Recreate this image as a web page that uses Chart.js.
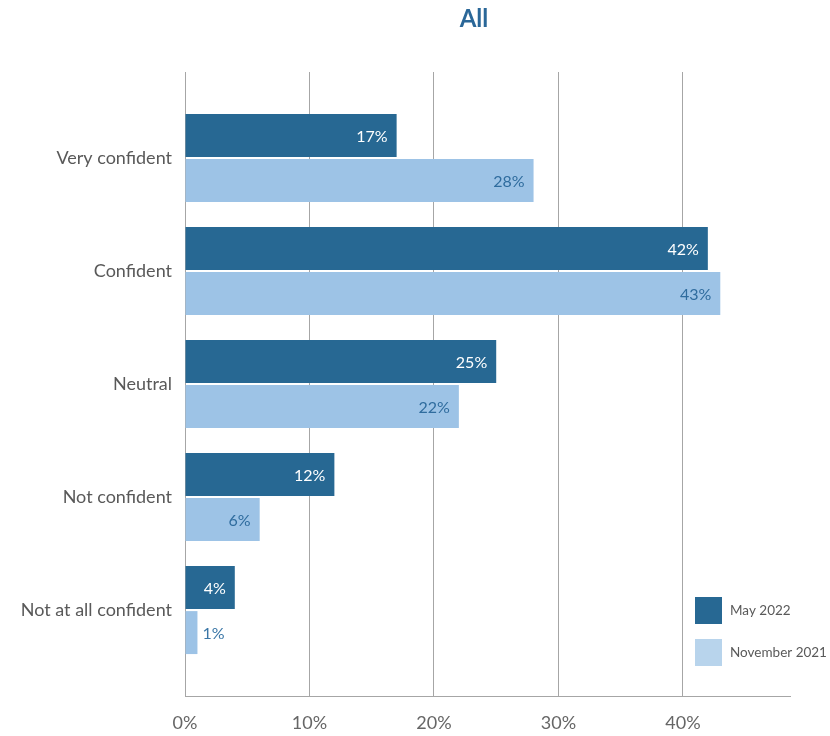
<!DOCTYPE html>
<html>
<head>
<meta charset="utf-8">
<script src="https://cdn.jsdelivr.net/npm/chart.js@4/dist/chart.umd.min.js"></script>
<style>
    html, body { margin: 0; padding: 0; background: #fff; }
</style>
</head>
<body>
<canvas id="graficoConfianca" width="830" height="736"></canvas>
<script>
const categories = ['Very confident', 'Confident', 'Neutral', 'Not confident', 'Not at all confident'];
const may2022 = [17, 42, 25, 12, 4];
const nov2021 = [28, 43, 22, 6, 1];
const xTicks = [0, 10, 20, 30, 40];

const FONT = 'Lato, "Open Sans", sans-serif';
const DARK = '#276893';
const LIGHT = '#9dc3e6';
const GRID = '#a6a6a6';

// value labels at the end of each bar (inside when it fits, else just outside)
const valueLabels = {
    id: 'valueLabels',
    afterDatasetsDraw(chart) {
        const ctx = chart.ctx;
        ctx.save();
        ctx.font = '16px ' + FONT;
        ctx.textBaseline = 'middle';
        chart.data.datasets.forEach((ds, di) => {
            chart.getDatasetMeta(di).data.forEach((bar, i) => {
                const text = ds.data[i].x + '%';
                const w = ctx.measureText(text).width;
                const len = bar.x - bar.base;
                if (len > w + 16) {
                    ctx.textAlign = 'right';
                    ctx.fillStyle = ds.labelColor;
                    ctx.fillText(text, bar.x - 9, bar.y + 1);
                } else {
                    ctx.textAlign = 'left';
                    ctx.fillStyle = '#3a76a6';
                    ctx.fillText(text, bar.x + 5, bar.y + 1);
                }
            });
        });
        ctx.restore();
    }
};

// title and legend boxes
const decorations = {
    id: 'decorations',
    afterDraw(chart) {
        const ctx = chart.ctx;
        ctx.save();
        ctx.fillStyle = '#2a6798';
        ctx.font = 'bold 24px ' + FONT;
        ctx.textAlign = 'center';
        ctx.textBaseline = 'middle';
        ctx.fillText('All', 474, 19);

        const items = [
            { label: 'May 2022', color: DARK, y: 597 },
            { label: 'November 2021', color: '#b8d4ec', y: 639 }
        ];
        ctx.font = '13.5px ' + FONT;
        ctx.textAlign = 'left';
        items.forEach(it => {
            ctx.fillStyle = it.color;
            ctx.fillRect(695, it.y, 27, 27);
            ctx.fillStyle = '#595959';
            ctx.fillText(it.label, 730, it.y + 14);
        });
        ctx.restore();
    }
};

const ctx = document.getElementById('graficoConfianca').getContext('2d');

new Chart(ctx, {
    type: 'bar',
    data: {
        datasets: [{
            label: 'May 2022',
            data: may2022.map((v, i) => ({ x: v, y: i })),
            backgroundColor: DARK,
            labelColor: '#ffffff',
            barPercentage: 0.955,
            categoryPercentage: 0.796
        }, {
            label: 'November 2021',
            data: nov2021.map((v, i) => ({ x: v, y: i })),
            backgroundColor: LIGHT,
            labelColor: '#2f6c9e',
            barPercentage: 0.955,
            categoryPercentage: 0.796
        }]
    },
    options: {
        indexAxis: 'y',
        responsive: false,
        animation: false,
        layout: {
            padding: { top: 72, right: 40, bottom: 0, left: 0 }
        },
        scales: {
            x: {
                type: 'linear',
                min: 0,
                max: 48.6,
                afterBuildTicks: scale => {
                    scale.ticks = xTicks.map(v => ({ value: v }));
                },
                afterFit: scale => { scale.height = 40; },
                ticks: {
                    color: '#666',
                    padding: 16,
                    font: { size: 18, family: FONT },
                    callback: v => v + '%'
                },
                grid: {
                    color: GRID,
                    drawTicks: false
                },
                border: { display: true, color: GRID }
            },
            y: {
                type: 'linear',
                reverse: true,
                offset: false,
                min: -0.76,
                max: 4.76,
                afterBuildTicks: scale => {
                    scale.ticks = categories.map((c, i) => ({ value: i }));
                },
                afterFit: scale => { scale.width = 185; },
                ticks: {
                    color: '#595959',
                    padding: 13,
                    font: { size: 18, family: FONT },
                    callback: v => categories[v]
                },
                grid: { display: false, drawTicks: false, offset: false },
                border: { display: false }
            }
        },
        plugins: {
            legend: { display: false },
            tooltip: { enabled: true }
        }
    },
    plugins: [valueLabels, decorations]
});
</script>
</body>
</html>
